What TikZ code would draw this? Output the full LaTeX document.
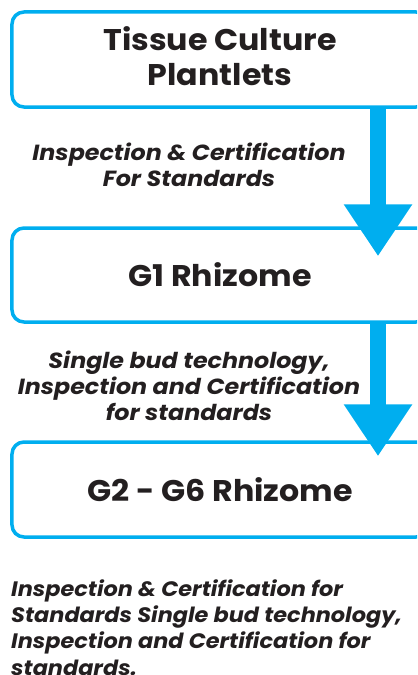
\documentclass[tikz,border=0pt]{standalone}
\usepackage{fontspec}
\setmainfont{Poppins}
\newfontfamily\boxfont[FakeStretch=1.06]{Poppins}
\newfontfamily\lblfont[FakeStretch=1.085]{Poppins}
\newfontfamily\notefont[FakeStretch=1.07]{Poppins}
\usetikzlibrary{arrows.meta}
\definecolor{cyanb}{HTML}{00AEEF}
\definecolor{inkd}{HTML}{231F20}
\tikzset{
  box/.style={draw=cyanb, line width=3.5bp, rounded corners=12bp, minimum width=416bp, inner sep=0pt},
  boxtxt/.style={inner sep=0pt, text=inkd, font=\boxfont\fontsize{30}{35}\selectfont\bfseries, align=center},
  lbl/.style={inner sep=0pt, text=inkd, font=\lblfont\fontsize{22}{26}\selectfont\bfseries\itshape, align=center},
  note/.style={inner sep=0pt, text=inkd, font=\notefont\fontsize{21}{26.3}\selectfont\bfseries\itshape, align=left},
  bigarrow/.style={draw=cyanb, line width=16bp, -{Triangle[width=65bp,length=52bp]}}
}
\begin{document}
\begin{tikzpicture}[x=1bp,y=-1bp]
\useasboundingbox (0,0) rectangle (417,675);
\clip (0,0) rectangle (417,675);
\node[box, minimum height=95bp] (b1) at (220,59.5) {};
\node[box, minimum height=94bp] (b2) at (220,275) {};
\node[box, minimum height=95bp] (b3) at (220,489.5) {};
\node[boxtxt] (t1) at ([yshift=3.5bp]b1.center) {Tissue Culture\\Plantlets};
\node[boxtxt] (t2) at (b2.center) {G1 Rhizome};
\node[boxtxt] (t3) at (b3.center) {G2 - G6 Rhizome};
\coordinate (ax) at (378,0);
\draw[bigarrow] (b1.south -| ax) -- ([yshift=-30bp]b2.north -| ax);
\draw[bigarrow] (b2.south -| ax) -- ([yshift=-16bp]b3.north -| ax);
\node[lbl] (l1) at (189,165) {Inspection \& Certification\\For Standards};
\node[lbl] (l2) at (189,386) {Single bud technology,\\Inspection and Certification\\for standards};
\node[note, anchor=north west] (l3) at (11,579.5) {Inspection \& Certification for\\Standards Single bud technology,\\Inspection and Certification for\\standards.};
\end{tikzpicture}
\end{document}
